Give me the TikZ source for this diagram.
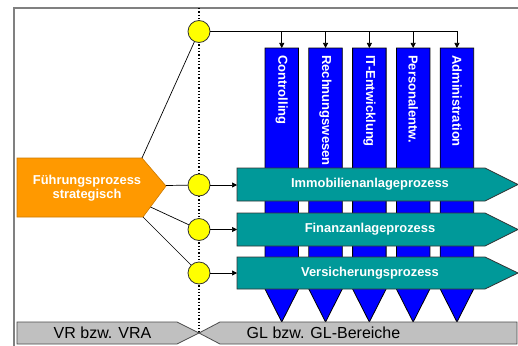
\documentclass[tikz,border=0pt]{standalone}
\usepackage{fontspec}
\setmainfont{Liberation Sans}
\usetikzlibrary{arrows.meta}
\definecolor{tealc}{RGB}{0,153,153}
\definecolor{bluec}{RGB}{0,0,255}
\definecolor{orangec}{RGB}{255,153,0}
\definecolor{yellowc}{RGB}{255,255,0}
\definecolor{barc}{RGB}{192,192,192}
\definecolor{framec}{RGB}{128,128,128}
\begin{document}
\begin{tikzpicture}[x=1pt,y=-1pt,
  hub/.style={circle, draw=black!80, fill=yellowc, line width=0.8pt, minimum size=22pt, inner sep=0pt},
  link/.style={draw=black, line width=0.7pt},
  arr/.style={link, -{Triangle[length=5pt,width=5pt]}},
  procshape/.style={fill=tealc, draw=black!80, line width=0.8pt},
  colshape/.style={fill=bluec, draw=black, line width=0.8pt},
  leadshape/.style={fill=orangec, draw=orangec!80!black, line width=0.6pt},
  barshape/.style={fill=barc, draw=black!70, line width=0.8pt},
  proclabel/.style={text=white, font=\bfseries\fontsize{12.9}{14}\selectfont, inner sep=0pt, align=center},
  collabel/.style={text=white, font=\bfseries\fontsize{13}{14}\selectfont, rotate=-90, anchor=west, inner sep=0pt},
  barlabel/.style={text=black, font=\fontsize{16}{18}\selectfont, inner sep=0pt},
]
\clip (0,0) rectangle (518,345);
\fill[white] (0,0) rectangle (518,345);
% frame
\draw[framec, line width=1.8pt] (14,8) rectangle (560,380);
% dotted divider
\coordinate (dtop) at (199,8);
\coordinate (dbot) at (199,333);
\draw[dotted, line width=1.3pt] (dtop) -- (dbot);

% columns (blue)
\foreach \i/\t in {0/Controlling,1/Rechnungswesen,2/IT-Entwicklung,3/Personalentw.,4/Administration} {
  \pgfmathsetmacro\xa{265+43.8*\i}
  \pgfmathsetmacro\xb{\xa+33.5}
  \pgfmathsetmacro\xm{\xa+16.75}
  \draw[colshape] (\xa,48) -- (\xb,48) -- (\xb,289) -- (\xm,322) -- (\xa,289) -- cycle;
  \coordinate (top\i) at (\xm,48);
  \node[collabel] (lab\i) at (\xm,55) {\t};
}

% process arrows (teal)
\draw[procshape] (237,168) -- (485,168) -- (518,184.5) -- (485,201) -- (237,201) -- cycle;
\draw[procshape] (237,213) -- (485,213) -- (518,229.5) -- (485,246) -- (237,246) -- cycle;
\draw[procshape] (237,257) -- (485,257) -- (518,273) -- (485,289) -- (237,289) -- cycle;
\node[proclabel] (imm) at (370,184.5) {Immobilienanlageprozess};
\node[proclabel] (fin) at (370,229.5) {Finanzanlageprozess};
\node[proclabel] (vers) at (370,273) {Versicherungsprozess};
\coordinate (imm-in) at (237,185);
\coordinate (fin-in) at (237,229.5);
\coordinate (vers-in) at (237,273);

% leading process (orange)
\draw[leadshape] (17,158) -- (142,158) -- (166,186) -- (143,217) -- (17,217) -- cycle;
\node[proclabel] (lead) at (87,188.5) {Führungsprozess\\strategisch};
\coordinate (fp-tc) at (142,158);
\coordinate (fp-tip) at (166,185.5);
\coordinate (fp-mid) at (150.5,207);
\coordinate (fp-bc) at (143,217);

% hubs
\node[hub] (c0) at (199,31.5) {};
\node[hub] (c1) at (199,185) {};
\node[hub] (c2) at (199,229.5) {};
\node[hub] (c3) at (199,273) {};

% connectors
\draw[link] (fp-tc) -- (c0);
\draw[link] (fp-tip) -- (c1);
\draw[link] (fp-mid) -- (c2);
\draw[link] (fp-bc) -- (c3);
\draw[arr] (c1) -- (imm-in);
\draw[arr] (c2) -- (fin-in);
\draw[arr] (c3) -- (vers-in);
\draw[link] (c0) -- (top4 |- c0);
\foreach \i in {0,...,4} {
  \draw[arr] (top\i |- c0) -- (top\i);
}

% bottom bars
\draw[barshape] (17,322) -- (177,322) -- (dbot) -- (177,344) -- (17,344) -- cycle;
\draw[barshape] (dbot) -- (220,322) -- (517,322) -- (517,344) -- (220,344) -- cycle;
\node[barlabel] (vr) at (102.5,333) {VR bzw. VRA};
\node[barlabel] (gl) at (323.5,333) {GL bzw. GL-Bereiche};
\end{tikzpicture}
\end{document}
